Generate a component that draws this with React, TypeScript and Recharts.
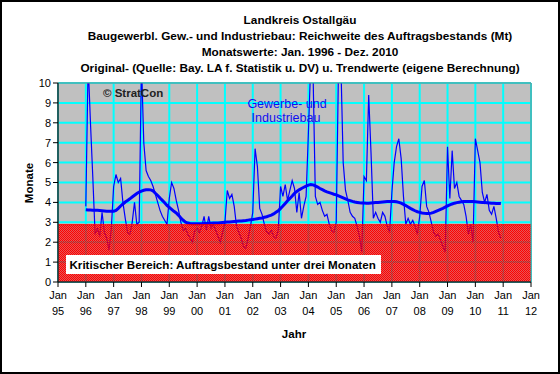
import React from "react";
import { ComposedChart, Line, Area, XAxis, YAxis, CartesianGrid, ReferenceArea } from "recharts";

const TITLE_LINES = [
  "Landkreis Ostallgäu",
  "Baugewerbl. Gew.- und Industriebau:  Reichweite  des Auftragsbestands (Mt)",
  "Monatswerte: Jan. 1996 - Dez. 2010",
  "Original- (Quelle: Bay. LA f. Statistik u. DV) u. Trendwerte (eigene Berechnung)",
];
const Y_LABEL = "Monate";
const X_LABEL = "Jahr";
const COPYRIGHT = "© StratCon";
const SERIES_LABEL = ["Gewerbe- und", "Industriebau"];
const CRITICAL_TEXT = "Kritischer Bereich: Auftragsbestand unter drei Monaten";

const YEAR_TICKS = [1995, 1996, 1997, 1998, 1999, 2000, 2001, 2002, 2003, 2004, 2005, 2006, 2007, 2008, 2009, 2010, 2011, 2012];
const MONTH_LABEL = "Jan";
const Y_TICKS = [0, 1, 2, 3, 4, 5, 6, 7, 8, 9, 10];
const X_DOMAIN = [1995, 2012];
const START_YEAR = 1996;
const CRITICAL_LEVEL = 2.88;

// monthly original values Jan 1996 - Dec 2010
const RAW_VALUES = [
  3.8, 11, 8.0, 5.3, 2.4, 2.7, 2.3, 3.5, 2.5, 2.2, 1.6, 2.7,
  4.8, 5.4, 5.0, 5.2, 4.0, 3.2, 2.5, 2.4, 3.0, 4.0, 2.9, 3.0,
  11, 7.0, 5.6, 5.3, 5.1, 4.8, 4.4, 4.0, 3.6, 3.3, 3.1, 2.9,
  4.2, 5.0, 4.7, 4.1, 3.6, 3.0, 2.6, 2.7, 2.4, 2.2, 2.0, 2.6,
  2.7, 2.5, 2.8, 3.3, 2.6, 3.3, 2.7, 2.9, 2.6, 2.3, 2.0, 2.5,
  3.0, 4.6, 4.2, 4.4, 3.8, 2.8, 2.5, 2.2, 1.8, 1.7, 2.2, 2.8,
  3.5, 6.7, 5.8, 3.7, 3.4, 2.9, 2.5, 2.4, 2.6, 2.3, 2.2, 2.6,
  4.8, 4.3, 4.9, 4.1, 4.6, 5.1, 4.7, 3.5, 4.5, 3.2, 3.8, 4.3,
  7.5, 11, 10.5, 4.3, 3.9, 4.0, 3.6, 3.3, 3.4, 2.9, 2.6, 2.5,
  3.0, 11, 11, 6.0, 4.6, 4.1, 3.5, 3.3, 3.2, 2.8, 2.3, 1.5,
  5.3, 5.1, 9.4, 6.5, 3.2, 3.5, 3.2, 3.0, 3.5, 3.3, 2.8, 2.5,
  4.5, 6.0, 6.8, 7.2, 6.2, 4.3, 2.9, 3.2, 2.9, 3.1, 2.8, 2.4,
  3.3, 4.8, 5.1, 3.8, 3.5, 3.0, 2.5, 2.3, 2.4, 2.1, 1.8, 1.5,
  6.8, 4.2, 6.6, 4.7, 5.0, 4.3, 4.1, 3.9, 3.3, 2.4, 2.9, 2.0,
  7.2, 6.6, 6.0, 4.5, 4.0, 4.4, 3.6, 3.4, 3.8, 3.2, 2.5, 2.2,
];

// monthly trend values Jan 1996 - Dec 2010
const TREND_VALUES = [
  3.63, 3.62, 3.62, 3.61, 3.60, 3.60, 3.59, 3.58, 3.57, 3.56, 3.55, 3.55,
  3.56, 3.60, 3.70, 3.82, 3.92, 4.02, 4.10, 4.18, 4.27, 4.36, 4.45, 4.52,
  4.57, 4.61, 4.63, 4.64, 4.63, 4.58, 4.46, 4.35, 4.22, 4.10, 3.98, 3.85,
  3.75, 3.65, 3.55, 3.47, 3.35, 3.22, 3.10, 3.01, 2.96, 2.94, 2.93, 2.93,
  2.93, 2.93, 2.93, 2.94, 2.94, 2.95, 2.95, 2.96, 2.96, 2.97, 2.98, 2.99,
  3.0, 3.01, 3.02, 3.03, 3.04, 3.05, 3.06, 3.07, 3.08, 3.09, 3.11, 3.13,
  3.14, 3.16, 3.18, 3.2, 3.22, 3.25, 3.28, 3.32, 3.36, 3.42, 3.5, 3.58,
  3.7, 3.82, 3.95, 4.08, 4.2, 4.32, 4.45, 4.55, 4.63, 4.7, 4.76, 4.82,
  4.87, 4.9, 4.88, 4.83, 4.77, 4.7, 4.64, 4.58, 4.53, 4.49, 4.45, 4.41,
  4.38, 4.33, 4.28, 4.23, 4.18, 4.13, 4.09, 4.05, 4.02, 4.0, 3.98, 3.97,
  3.97, 3.96, 3.96, 3.97, 3.98, 3.99, 4.0, 4.01, 4.02, 4.03, 4.04, 4.05,
  4.05, 4.05, 4.03, 4.0, 3.96, 3.9, 3.84, 3.77, 3.7, 3.64, 3.58, 3.53,
  3.5, 3.47, 3.45, 3.44, 3.44, 3.46, 3.5, 3.55, 3.6, 3.65, 3.7, 3.76,
  3.82, 3.87, 3.92, 3.96, 3.99, 4.01, 4.03, 4.04, 4.05, 4.05, 4.05, 4.04,
  4.03, 4.02, 4.01, 4.0, 3.99, 3.98, 3.97, 3.96, 3.96, 3.95, 3.95, 3.94,
];

const data = [
  { t: X_DOMAIN[0], crit: CRITICAL_LEVEL },
  ...RAW_VALUES.map((v, i) => ({
    t: START_YEAR + i / 12,
    raw: v,
    trend: TREND_VALUES[i],
    crit: CRITICAL_LEVEL,
  })),
  { t: X_DOMAIN[1], crit: CRITICAL_LEVEL },
];

const FONT = "'Liberation Sans', Arial, sans-serif";
const W = 560;
const H = 374;

const YearTick = (props: any) => {
  const { x, y, payload } = props;
  const yy = String(payload.value % 100).padStart(2, "0");
  return (
    <g>
      <text x={x} y={y + 10} textAnchor="middle" fontFamily={FONT} fontSize={11} fill="#000">
        {MONTH_LABEL}
      </text>
      <text x={x} y={y + 26} textAnchor="middle" fontFamily={FONT} fontSize={11} fill="#000">
        {yy}
      </text>
    </g>
  );
};

export default function App() {
  return (
    <div style={{ position: "absolute", left: 0, top: 0, width: W, height: H, background: "#fff" }}>
      <svg width={0} height={0} style={{ position: "absolute" }}>
        <defs>
          <pattern id="redHatch" x="0" y="0" width="2" height="2" patternUnits="userSpaceOnUse">
            <rect x="0" y="0" width="1" height="1" fill="#FF0000" />
            <rect x="1" y="1" width="1" height="1" fill="#FF0000" />
            <rect x="1" y="0" width="1" height="1" fill="#FF0000" fillOpacity={0.55} />
            <rect x="0" y="1" width="1" height="1" fill="#FF0000" fillOpacity={0.55} />
          </pattern>
        </defs>
      </svg>
      <ComposedChart
        width={W}
        height={H}
        data={data}
        margin={{ top: 83, right: 29, bottom: 32, left: 0 }}
      >
        <CartesianGrid stroke="#00FFFF" strokeWidth={2} fill="#C0C0C0" fillOpacity={1} />
        <XAxis
          dataKey="t"
          type="number"
          domain={X_DOMAIN}
          ticks={YEAR_TICKS}
          interval={0}
          height={60}
          tick={<YearTick />}
          tickSize={5}
          stroke="#000"
          tickLine={{ stroke: "#000" }}
          axisLine={{ stroke: "#000" }}
        />
        <YAxis
          type="number"
          domain={[0, 10]}
          ticks={Y_TICKS}
          interval={0}
          allowDataOverflow
          width={58}
          tickSize={5}
          tick={{ fontFamily: FONT, fontSize: 11, fill: "#000" }}
          stroke="#000"
          tickLine={{ stroke: "#000" }}
          axisLine={{ stroke: "#000" }}
        />
        <Line
          type="linear"
          dataKey="raw"
          stroke="#0000FF"
          strokeWidth={1.2}
          dot={false}
          activeDot={false}
          isAnimationActive={false}
        />
        <Line
          type="linear"
          dataKey="trend"
          stroke="#0000FF"
          strokeWidth={3}
          dot={false}
          activeDot={false}
          isAnimationActive={false}
        />
        <Area
          type="linear"
          dataKey="crit"
          baseValue={0}
          fill="url(#redHatch)"
          fillOpacity={1}
          stroke="#FF0000"
          strokeWidth={1}
          dot={false}
          activeDot={false}
          isAnimationActive={false}
          zIndex={450}
        />
        <ReferenceArea
          x1={X_DOMAIN[0]}
          x2={X_DOMAIN[1]}
          y1={0}
          y2={10}
          fill="none"
          stroke="#808080"
          strokeWidth={1}
          zIndex={470}
        />
      </ComposedChart>
      <svg
        width={W}
        height={H}
        style={{ position: "absolute", left: 0, top: 0, pointerEvents: "none" }}
      >
        <rect x={1} y={1} width={W - 2} height={H - 2} fill="none" stroke="#000" strokeWidth={2} />
        {TITLE_LINES.map((t, i) => (
          <text
            key={i}
            x={300}
            y={23.5 + i * 16}
            textAnchor="middle"
            fontFamily={FONT}
            fontWeight="bold"
            fontSize={11.8}
            fill="#000"
          >
            {t}
          </text>
        ))}
        <text x={103} y={96.5} fontFamily={FONT} fontWeight="bold" fontSize={11.5} fill="#222">
          {COPYRIGHT}
        </text>
        <text x={287} y={108} textAnchor="middle" fontFamily={FONT} fontSize={12.5} fill="#1010F0">
          {SERIES_LABEL[0]}
        </text>
        <text x={286} y={122} textAnchor="middle" fontFamily={FONT} fontSize={12.5} fill="#1010F0">
          {SERIES_LABEL[1]}
        </text>
        <rect x={66} y={255} width={315} height={19} fill="#FFFFFF" />
        <text x={69.5} y={268.5} fontFamily={FONT} fontWeight="bold" fontSize={11.6} fill="#000">
          {CRITICAL_TEXT}
        </text>
        <text
          x={33}
          y={183}
          transform="rotate(-90 33 183)"
          textAnchor="middle"
          fontFamily={FONT}
          fontWeight="bold"
          fontSize={11.5}
          fill="#000"
        >
          {Y_LABEL}
        </text>
        <text x={294} y={338} textAnchor="middle" fontFamily={FONT} fontWeight="bold" fontSize={11.5} fill="#000">
          {X_LABEL}
        </text>
      </svg>
    </div>
  );
}
